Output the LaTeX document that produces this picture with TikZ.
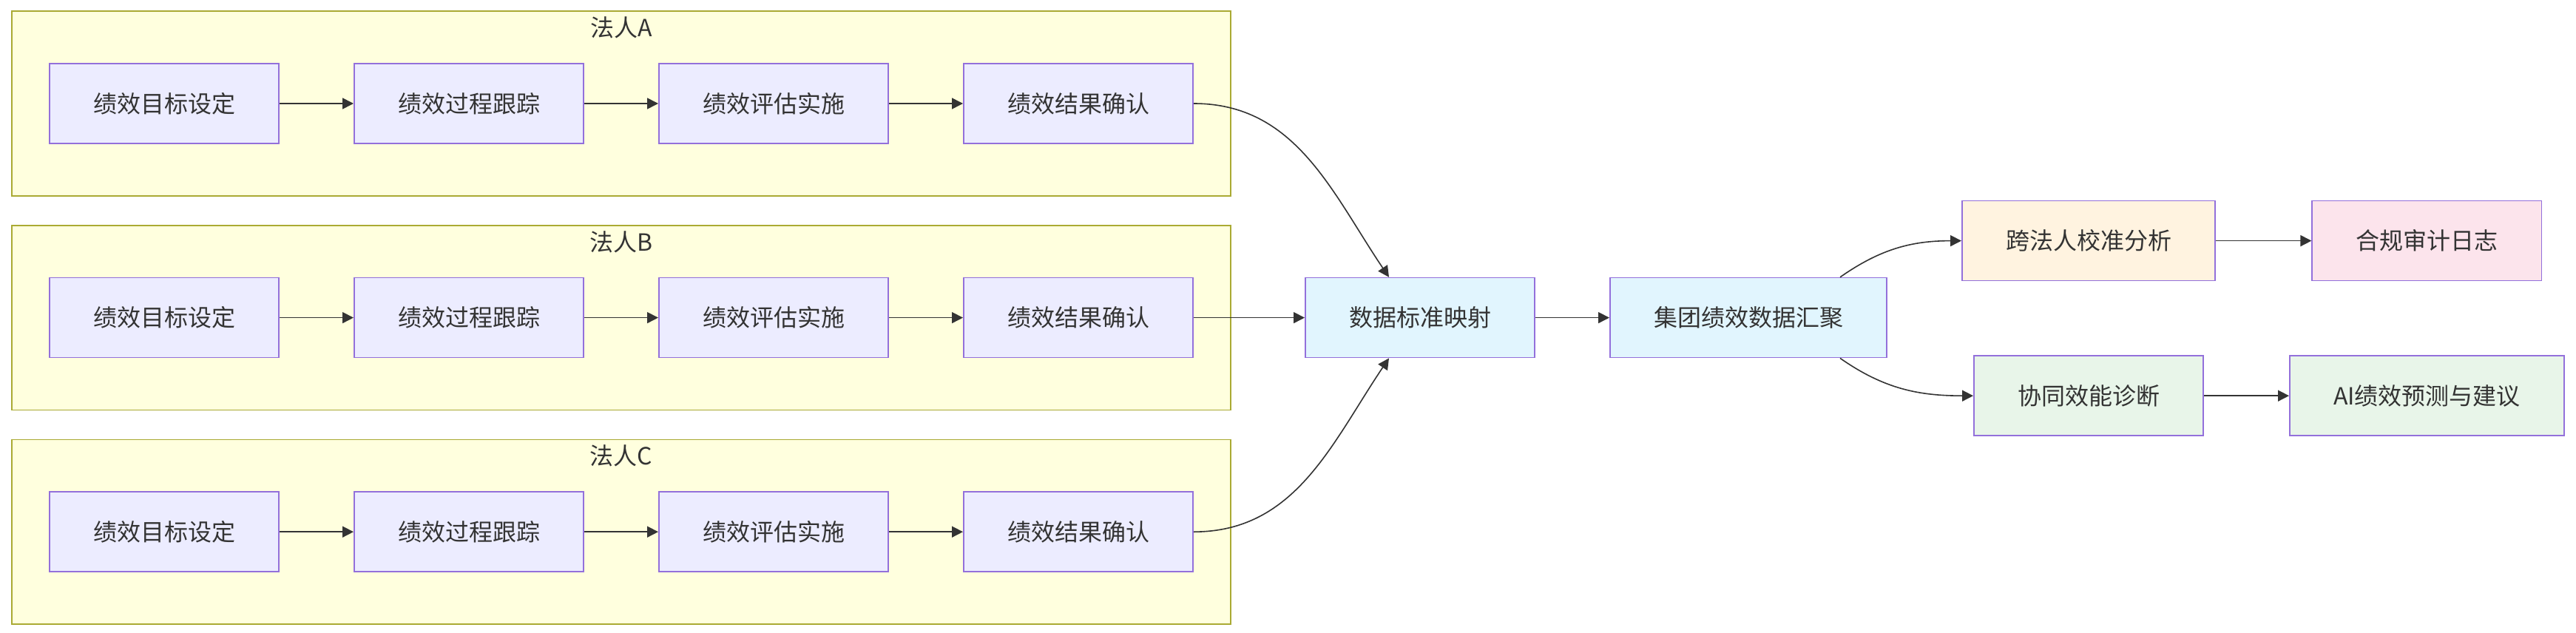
\documentclass[tikz,border=0pt]{standalone}
\usepackage{fontspec}
\setmainfont{Noto Sans CJK SC}
\usepackage{xcolor}
\usepackage{tikz}
\usetikzlibrary{positioning,fit,backgrounds,arrows.meta}

\definecolor{txt}{HTML}{333333}
\definecolor{boxfill}{HTML}{ECECFF}
\definecolor{boxline}{HTML}{9370DB}
\definecolor{grpfill}{HTML}{FFFFDE}
\definecolor{grpline}{HTML}{AAAA33}
\definecolor{mapfill}{HTML}{E1F5FE}
\definecolor{calfill}{HTML}{FFF3E0}
\definecolor{logfill}{HTML}{FCE4EC}
\definecolor{aifill}{HTML}{E8F5E9}

\begin{document}
\begin{tikzpicture}[
    x=1pt, y=1pt,
    node distance=50pt,
    box/.style={rectangle, draw=boxline, fill=boxfill, line width=0.8pt, minimum height=54pt, inner xsep=29.6pt, text=txt, font=\fontsize{16pt}{19pt}\selectfont},
    group/.style={rectangle, draw=grpline, fill=grpfill, line width=0.9pt, inner xsep=25pt, inner ysep=35pt},
    title/.style={text=txt, font=\fontsize{16pt}{19pt}\selectfont},
    arrow/.style={-{Triangle[length=7.5pt,width=7.5pt]}, draw=txt, line width=0.8pt}
]
    \useasboundingbox (0,0) rectangle (1741.5,-428);

    \node[box] (a1) at (111,-70) {绩效目标设定};
    \node[box, right=of a1] (a2) {绩效过程跟踪};
    \node[box, right=of a2] (a3) {绩效评估实施};
    \node[box, right=of a3] (a4) {绩效结果确认};

    \node[box, below=90pt of a1] (b1) {绩效目标设定};
    \node[box, right=of b1] (b2) {绩效过程跟踪};
    \node[box, right=of b2] (b3) {绩效评估实施};
    \node[box, right=of b3] (b4) {绩效结果确认};

    \node[box, below=90pt of b1] (c1) {绩效目标设定};
    \node[box, right=of c1] (c2) {绩效过程跟踪};
    \node[box, right=of c2] (c3) {绩效评估实施};
    \node[box, right=of c3] (c4) {绩效结果确认};

    \begin{scope}[on background layer]
        \node[group, fit=(a1) (a4)] (grpA) {};
        \node[group, fit=(b1) (b4)] (grpB) {};
        \node[group, fit=(c1) (c4)] (grpC) {};
    \end{scope}
    \node[title] (tA) at ([yshift=-11.5pt]grpA.north) {法人A};
    \node[title] (tB) at ([yshift=-11.5pt]grpB.north) {法人B};
    \node[title] (tC) at ([yshift=-11.5pt]grpC.north) {法人C};

    \node[box, fill=mapfill, right=75pt of b4] (map) {数据标准映射};
    \node[box, fill=mapfill, right=of map] (agg) {集团绩效数据汇聚};
    \node[box, fill=calfill, right=of agg, yshift=52pt] (cal) {跨法人校准分析};
    \node[box, fill=aifill, below=of cal] (diag) {协同效能诊断};
    \node[box, fill=logfill, right=64.7pt of cal] (log) {合规审计日志};
    \node[box, fill=aifill, below=of log] (pred) {AI绩效预测与建议};

    \draw[arrow] (a1) -- (a2);
    \draw[arrow] (a2) -- (a3);
    \draw[arrow] (a3) -- (a4);
    \draw[arrow] (b1) -- (b2);
    \draw[arrow] (b2) -- (b3);
    \draw[arrow] (b3) -- (b4);
    \draw[arrow] (c1) -- (c2);
    \draw[arrow] (c2) -- (c3);
    \draw[arrow] (c3) -- (c4);

    \draw[arrow] (a4.east) to[out=0, in=124] ([xshift=-21pt]map.north);
    \draw[arrow] (b4) -- (map);
    \draw[arrow] (c4.east) to[out=0, in=-124] ([xshift=-21pt]map.south);
    \draw[arrow] (map) -- (agg);
    \draw[arrow] ([xshift=-32pt]agg.north east) to[out=35, in=180] (cal.west);
    \draw[arrow] ([xshift=-32pt]agg.south east) to[out=-35, in=180] (diag.west);
    \draw[arrow] (cal) -- (log);
    \draw[arrow] (diag) -- (pred);
\end{tikzpicture}
\end{document}
